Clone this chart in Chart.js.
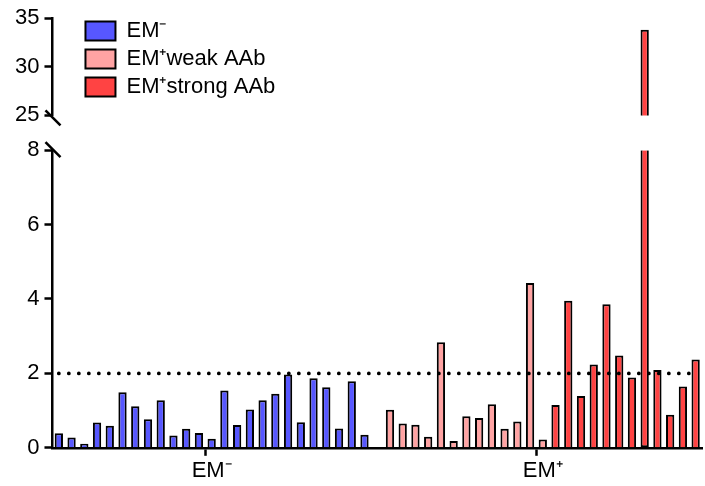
<!DOCTYPE html>
<html>
<head>
<meta charset="utf-8">
<script src="https://cdn.jsdelivr.net/npm/chart.js@4/dist/chart.umd.min.js"></script>
<style>
html,body{margin:0;padding:0;background:#fff}
#wrap{width:705px;height:486px;position:relative}
</style>
</head>
<body>
<div id="wrap"><canvas id="c"></canvas></div>
<script>
// ---- data ----
const groupLabels = ['EM⁻', 'EM⁺'];
const seriesNames = ['EM⁻', 'EM⁺weak AAb', 'EM⁺strong AAb'];
const emNeg = [0.39,0.28,0.11,0.68,0.59,1.49,1.12,0.77,1.28,0.33,0.51,0.40,0.24,1.54,0.61,1.03,1.28,1.45,1.97,0.69,1.87,1.63,0.52,1.79,0.35];
const emPosWeak = [1.02,0.65,0.62,0.30,2.84,0.18,0.85,0.80,1.17,0.51,0.71,4.43,0.22];
const emPosStrong = [1.15,3.95,1.39,2.24,3.86,2.48,1.89,33.8,2.09,0.89,1.65,2.37];
const cutoff = 2;
const lowerTicks = [0, 2, 4, 6, 8];
const upperTicks = [25, 30, 35];
const seriesColors = ['#5757ff', '#ffa3a3', '#ff4343'];

// ---- build category layout (group 1, spacer, group 2) ----
const groups = [[emNeg], [emPosWeak, emPosStrong]];
const labels = [];
const seriesOffsets = [];
groups.forEach((grp, g) => {
  if (g > 0) labels.push(' ');
  const n = grp.reduce((s, a) => s + a.length, 0);
  const start = labels.length;
  grp.forEach(arr => { seriesOffsets.push(labels.length); arr.forEach(() => labels.push('')); });
  labels[start + Math.floor(n / 2)] = groupLabels[g];
});
const seriesValues = [emNeg, emPosWeak, emPosStrong];
const lowMin = lowerTicks[0], lowMax = lowerTicks[lowerTicks.length - 1];
const upMin = upperTicks[0], upMax = upperTicks[upperTicks.length - 1];

function place(vals, off, fn) {
  const out = labels.map(() => null);
  vals.forEach((v, i) => { out[off + i] = fn(v); });
  return out;
}

const datasets = [];
seriesValues.forEach((vals, s) => {
  const full = place(vals, seriesOffsets[s], v => v);
  datasets.push({
    type: 'bar', label: seriesNames[s], yAxisID: 'y', order: 1,
    data: place(vals, seriesOffsets[s], v => Math.min(v, lowMax)),
    backgroundColor: seriesColors[s], borderColor: '#000', borderWidth: 2,
    borderSkipped: ctx => (full[ctx.dataIndex] > lowMax ? 'end' : 'start'),
    grouped: false, barPercentage: 0.65, categoryPercentage: 1
  });
});
seriesValues.forEach((vals, s) => {
  datasets.push({
    type: 'bar', label: seriesNames[s] + ' (upper)', yAxisID: 'yTop', order: 1,
    data: place(vals, seriesOffsets[s], v => (v > upMin ? v : null)),
    backgroundColor: seriesColors[s], borderColor: '#000', borderWidth: 2,
    grouped: false, barPercentage: 0.65, categoryPercentage: 1
  });
});
datasets.push({
  type: 'line', label: 'cutoff', yAxisID: 'y', order: 0,
  data: labels.map(() => cutoff),
  borderColor: '#000', borderWidth: 3.8, borderDash: [0, 10], borderCapStyle: 'round',
  pointRadius: 0, fill: false
});

Chart.defaults.font.family = '"Liberation Sans", Arial, Helvetica, sans-serif';
Chart.defaults.font.size = 22;
Chart.defaults.color = '#000';

const legendShift = {
  id: 'legendShift',
  afterLayout(chart) {
    const l = chart.legend;
    if (l) { l.left += 27; l.right += 27; l.top += 14; l.bottom += 14; }
  }
};
const axisBreak = {
  id: 'axisBreak',
  afterDraw(chart) {
    const ctx = chart.ctx, x = chart.chartArea.left;
    const ys = [chart.scales.yTop.bottom + 2, chart.scales.y.top - 1];
    ctx.save(); ctx.strokeStyle = '#000'; ctx.lineWidth = 2.5; ctx.lineCap = 'butt';
    ys.forEach(yy => { ctx.beginPath(); ctx.moveTo(x - 7, yy - 7); ctx.lineTo(x + 8, yy + 8); ctx.stroke(); });
    ctx.restore();
  }
};

const yCommon = {
  type: 'linear', position: 'left', stack: 'left',
  grid: { drawOnChartArea: false, tickLength: 8, tickWidth: 2.5, tickColor: '#000' },
  border: { display: true, color: '#000', width: 2.5 }
};

new Chart(document.getElementById('c'), {
  data: { labels, datasets },
  options: {
    responsive: true, maintainAspectRatio: false, animation: false,
    layout: { padding: { top: 13, left: 10, right: 3, bottom: 0 } },
    plugins: {
      tooltip: { enabled: false },
      legend: {
        position: 'chartArea', align: 'start',
        labels: {
          boxWidth: 30, boxHeight: 19, padding: 6, color: '#000', font: { size: 22 },
          filter: item => item.datasetIndex < 3
        }
      }
    },
    scales: {
      x: {
        type: 'category', offset: true,
        grid: {
          display: true, drawOnChartArea: false, drawTicks: true, tickLength: 8, tickWidth: 2.5,
          tickColor: c => (c.tick && c.tick.label && c.tick.label.trim() ? '#000' : 'rgba(0,0,0,0)')
        },
        border: { display: true, color: '#000', width: 2.5 },
        ticks: { autoSkip: false, maxRotation: 0, minRotation: 0, padding: 3, color: '#000', font: { size: 22, lineHeight: 1.1 } }
      },
      y: Object.assign({}, yCommon, {
        stackWeight: 300, weight: 0, min: lowMin, max: lowMax,
        ticks: { stepSize: lowerTicks[1] - lowerTicks[0], autoSkip: false, padding: 5, color: '#000', font: { size: 22 } }
      }),
      yGap: {
        type: 'linear', position: 'left', stack: 'left', stackWeight: 35, weight: 1, min: 0, max: 1,
        ticks: { display: false }, grid: { display: false, drawTicks: false }, border: { display: false }
      },
      yTop: Object.assign({}, yCommon, {
        stackWeight: 98, weight: 2, min: upMin, max: upMax,
        ticks: { stepSize: upperTicks[1] - upperTicks[0], autoSkip: false, padding: 5, color: '#000', font: { size: 22 } }
      })
    }
  },
  plugins: [legendShift, axisBreak]
});
</script>
</body>
</html>
